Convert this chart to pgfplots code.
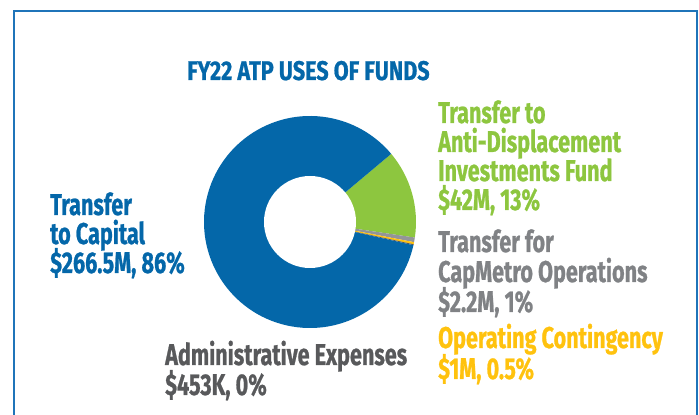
\documentclass[border=0pt]{standalone}
\usepackage{pgfplots}
\pgfplotsset{compat=1.18}
\usepackage{pgfplotstable}
\usepackage{fontspec}
\setmainfont{Fira Sans}[FakeStretch=0.72,BoldFeatures={FakeBold=0.8}]
\newfontfamily\titlefont{Fira Sans}[FakeStretch=0.8,BoldFeatures={FakeBold=0.8}]

\definecolor{capblue}{HTML}{0467A9}
\definecolor{adgreen}{HTML}{8DC63F}
\definecolor{opsgray}{HTML}{939598}
\definecolor{opstext}{HTML}{808285}
\definecolor{contyellow}{HTML}{FFC20E}
\definecolor{admgray}{HTML}{58595B}
\definecolor{frameblue}{HTML}{1F74B9}

% uses of funds, $M, clockwise from the top right
\pgfplotstableread{
value col
42    adgreen
2.2   opsgray
1     contyellow
0.453 admgray
266.5 capblue
}\uses

\newcommand\lbl{\fontsize{30}{30}\selectfont\bfseries}

\begin{document}
\begin{tikzpicture}[x=1pt,y=1pt]
\useasboundingbox (0,0) rectangle (699,415);
\draw[frameblue,line width=2.2pt] (14,0) -- (14,404) -- (697,404) -- (697,0);

\begin{axis}[at={(310pt,193pt)},anchor=center,scale only axis,
  width=212pt,height=212pt,xmin=-1,xmax=1,ymin=-1,ymax=1,hide axis,clip=false]
\pgfplotstablegetrowsof{\uses}
\pgfmathtruncatemacro\N{\pgfplotsretval-1}
\def\tot{312.153}
\def\cum{40}
\pgfplotsforeachungrouped \i in {0,...,\N}{%
  \pgfplotstablegetelem{\i}{value}\of\uses \let\val\pgfplotsretval
  \pgfplotstablegetelem{\i}{col}\of\uses \let\col\pgfplotsretval
  \pgfmathsetmacro\nxt{\cum-\val/\tot*360}%
  \edef\temp{\noexpand\fill[\col] (axis cs:0,0) -- ++(\cum:106pt)
    arc[start angle=\cum,end angle=\nxt,radius=106pt] -- cycle;}%
  \temp
  \let\cum\nxt
}
\fill[white] (axis cs:0,0) circle[radius=46pt];
\end{axis}

\node[anchor=base west,inner sep=0,capblue,font=\titlefont\fontsize{27}{27}\selectfont\bfseries] at (187,335) {FY22 ATP USES OF FUNDS};

\begin{scope}[every node/.style={anchor=base west,inner sep=0,font=\lbl}]
\node[capblue] at (50,200) {Transfer};
\node[capblue] at (50,171) {to Capital};
\node[capblue] at (50,142) {\$266.5M, 86\%};

\node[adgreen] at (438,292) {Transfer to};
\node[adgreen] at (438,263) {Anti-Displacement};
\node[adgreen] at (438,234) {Investments Fund};
\node[adgreen] at (438,205) {\$42M, 13\%};

\node[opstext] at (438,163) {Transfer for};
\node[opstext] at (438,133) {CapMetro Operations};
\node[opstext] at (438,103) {\$2.2M, 1\%};

\node[contyellow] at (438,67) {Operating Contingency};
\node[contyellow] at (438,36) {\$1M, 0.5\%};

\node[admgray] at (165,50) {Administrative Expenses};
\node[admgray] at (165,20) {\$453K, 0\%};
\end{scope}
\end{tikzpicture}
\end{document}
